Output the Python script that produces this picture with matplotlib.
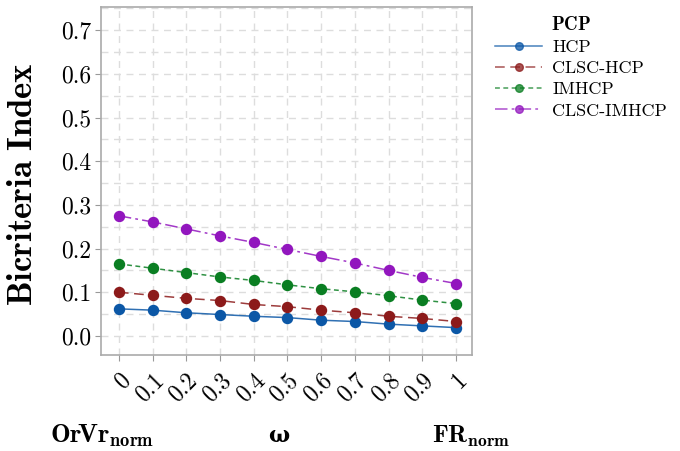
import matplotlib
matplotlib.use("Agg")
import matplotlib.pyplot as plt
from matplotlib.lines import Line2D

plt.rcParams['font.family'] = ['cmr10', 'DejaVu Serif']
plt.rcParams['mathtext.fontset'] = 'cm'
plt.rcParams['axes.unicode_minus'] = False
plt.rcParams['axes.formatter.use_mathtext'] = True
plt.rcParams['lines.scale_dashes'] = False

omega = [0, 0.1, 0.2, 0.3, 0.4, 0.5, 0.6, 0.7, 0.8, 0.9, 1]
omega_labels = ['0', '0.1', '0.2', '0.3', '0.4', '0.5', '0.6', '0.7', '0.8', '0.9', '1']

hcp = [0.062, 0.059, 0.053, 0.049, 0.045, 0.042, 0.036, 0.033, 0.027, 0.023, 0.019]
clsc_hcp = [0.100, 0.093, 0.086, 0.081, 0.072, 0.067, 0.059, 0.053, 0.045, 0.040, 0.033]
imhcp = [0.165, 0.155, 0.145, 0.135, 0.127, 0.117, 0.108, 0.101, 0.092, 0.082, 0.074]
clsc_imhcp = [0.275, 0.261, 0.245, 0.229, 0.214, 0.198, 0.182, 0.167, 0.150, 0.134, 0.120]

series_names = ['HCP', 'CLSC-HCP', 'IMHCP', 'CLSC-IMHCP']
colors = ['#0B57A6', '#8C1A1A', '#0A7E22', '#9216BE']
dashes = [None, (7, 4), (3.5, 2.5), (9, 3, 2, 3)]

fig = plt.figure(figsize=(6.8, 4.51), dpi=100)
ax = fig.add_axes([0.1485, 0.213, 0.5455, 0.7715])

handles = []
for vals, name, c, d in zip([hcp, clsc_hcp, imhcp, clsc_imhcp], series_names, colors, dashes):
    line, = ax.plot(omega, vals, color=c, lw=1.1, alpha=0.85, zorder=3)
    if d is not None:
        line.set_dashes(d)
    ax.plot(omega, vals, 'o', color=c, ms=7.2, zorder=4)
    h = Line2D([], [], color=c, lw=1.1, alpha=0.75, marker='o', ms=5.5,
               markerfacecolor=c, markeredgecolor=c)
    if d is not None:
        h.set_dashes(d)
    handles.append(h)

ax.set_xlim(-0.053, 1.047)
ax.set_ylim(-0.0435, 0.753)
ax.set_xticks(omega)
ax.set_xticklabels(omega_labels, rotation=45, ha='right', va='top',
                   rotation_mode='anchor', fontsize=17)
ax.set_yticks([0, 0.1, 0.2, 0.3, 0.4, 0.5, 0.6, 0.7])
ax.set_yticklabels(['0.0', '0.1', '0.2', '0.3', '0.4', '0.5', '0.6', '0.7'], fontsize=17)
ax.set_yticks([0.05, 0.15, 0.25, 0.35, 0.45, 0.55, 0.65, 0.75], minor=True)
ax.tick_params(axis='y', which='minor', length=0)
ax.tick_params(which='major', length=4, color='#999999', pad=3)
ax.tick_params(axis='x', pad=6)

ax.grid(True, which='both', axis='y', color='#dddddd', ls=(0, (5, 4)), lw=1)
ax.grid(True, which='major', axis='x', color='#dddddd', ls=(0, (5, 4)), lw=1)
ax.set_axisbelow(True)
for s in ax.spines.values():
    s.set_color('#aaaaaa')
    s.set_linewidth(1.2)

ax.set_ylabel(r'$\mathbf{Bicriteria\ Index}$', fontsize=25)
ax.yaxis.set_label_coords(-0.168, 0.49)

leg = fig.legend(handles, series_names, loc='upper left',
                 bbox_to_anchor=(0.71, 0.94), frameon=False, fontsize=13,
                 handlelength=2.6, handletextpad=0.55, labelspacing=0.3,
                 borderpad=0.2)
fig.text(0.811, 0.925, r'$\mathbf{PCP}$', fontsize=13.5, ha='left', va='bottom')

fig.text(0.074, 0.018, r'$\mathbf{Or\!Vr}_{\mathbf{norm}}$', fontsize=19, ha='left')
fig.text(0.41, 0.02, 'ω', fontsize=16, fontweight='bold', family='DejaVu Serif', ha='center')
fig.text(0.635, 0.018, r'$\mathbf{FR}_{\mathbf{norm}}$', fontsize=18, ha='left')

fig.savefig('out.png', dpi=100)
